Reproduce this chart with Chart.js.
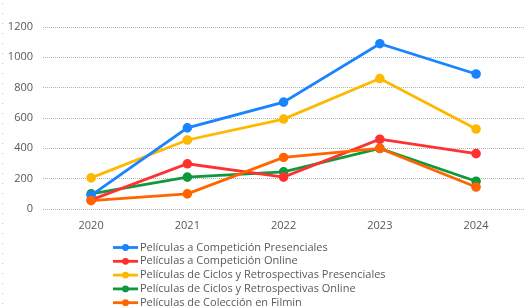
<!DOCTYPE html>
<html>
<head>
<meta charset="utf-8">
<script src="https://cdn.jsdelivr.net/npm/chart.js@4/dist/chart.umd.min.js"></script>
<style>
  html, body { margin: 0; padding: 0; background: #fff; }
  #wrap { width: 531px; height: 307px; position: relative; }
</style>
</head>
<body>
<div id="wrap"><canvas id="chart"></canvas></div>
<script>
  // data
  const years = ['2020', '2021', '2022', '2023', '2024'];
  const compPresenciales = [90, 535, 705, 1090, 890];
  const compOnline = [60, 298, 210, 460, 365];
  const ciclosPresenciales = [205, 455, 593, 860, 527];
  const ciclosOnline = [100, 210, 245, 400, 183];
  const coleccionFilmin = [55, 100, 340, 400, 145];
  const yTicks = [0, 200, 400, 600, 800, 1000, 1200];

  const labelColor = '#595959';
  const font = { family: "'Open Sans', sans-serif", size: 11 };

  function series(label, data, color, order) {
    return {
      label, data, order,
      borderColor: color, backgroundColor: color,
      borderWidth: 2.8, pointRadius: 3.4, pointHoverRadius: 4,
      pointBackgroundColor: color, pointBorderColor: color,
      tension: 0, fill: false
    };
  }

  // legend drawn in one left-aligned column below the plot, plus the dotted left edge
  const columnLegend = {
    id: 'columnLegend',
    afterDraw(chart) {
      const c = chart.ctx;
      c.save();
      c.strokeStyle = '#c9c9c9';
      c.lineWidth = 1;
      c.setLineDash([1, 9]);
      c.beginPath();
      c.moveTo(2.5, 3);
      c.lineTo(2.5, 307);
      c.stroke();
      c.setLineDash([]);
      c.font = font.size + 'px ' + font.family;
      c.textBaseline = 'middle';
      c.textAlign = 'left';
      chart.data.datasets.forEach((ds, i) => {
        const y = 247.5 + i * 13.8;
        c.strokeStyle = ds.borderColor;
        c.lineWidth = 2.8;
        c.beginPath();
        c.moveTo(113, y);
        c.lineTo(138, y);
        c.stroke();
        c.fillStyle = ds.borderColor;
        c.beginPath();
        c.arc(125.5, y, 3.4, 0, Math.PI * 2);
        c.fill();
        c.fillStyle = labelColor;
        c.fillText(ds.label, 140, y);
      });
      c.restore();
    }
  };

  new Chart(document.getElementById('chart'), {
    type: 'line',
    data: {
      labels: years,
      datasets: [
        series('Películas a Competición Presenciales', compPresenciales, '#1a84ff', 1),
        series('Películas a Competición Online', compOnline, '#ff3030', 2),
        series('Películas de Ciclos y Retrospectivas Presenciales', ciclosPresenciales, '#ffb800', 3),
        series('Películas de Ciclos y Retrospectivas Online', ciclosOnline, '#0c9a3c', 4),
        series('Películas de Colección en Filmin', coleccionFilmin, '#ff6400', 0)
      ]
    },
    options: {
      responsive: true, maintainAspectRatio: false, animation: false,
      layout: { padding: { top: 27, right: 6, bottom: 74, left: 0 } },
      plugins: { legend: { display: false }, tooltip: { enabled: false } },
      scales: {
        x: {
          offset: true,
          grid: { display: false, drawTicks: false },
          border: { display: false },
          ticks: { color: labelColor, font, padding: 10 },
          afterFit: s => { s.height = 24; }
        },
        y: {
          min: 0, max: 1200,
          afterBuildTicks: s => { s.ticks = yTicks.map(v => ({ value: v })); },
          grid: { color: '#b4b4b4', drawTicks: false, lineWidth: 1 },
          border: { display: false, dash: [1, 1] },
          ticks: { color: labelColor, font, padding: 10, callback: v => String(v) },
          afterFit: s => { s.width = 43; }
        }
      }
    },
    plugins: [columnLegend]
  });
</script>
</body>
</html>
